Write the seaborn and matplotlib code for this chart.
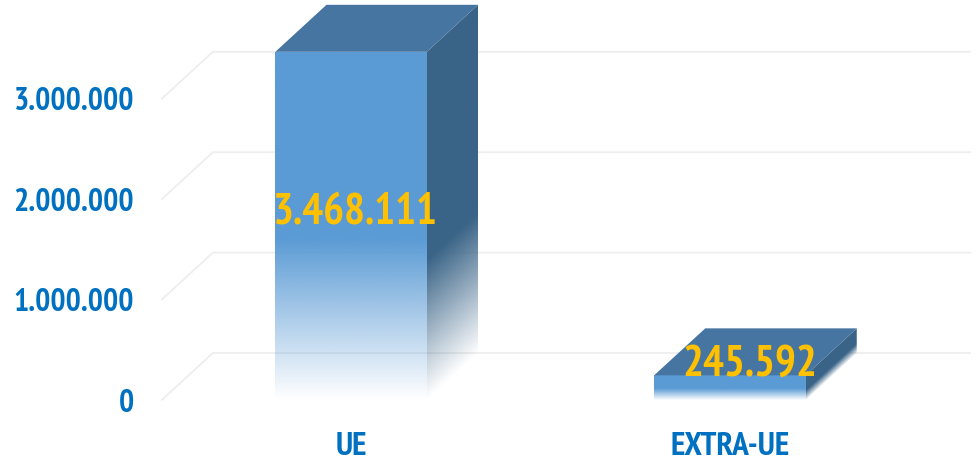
import matplotlib.pyplot as plt
import numpy as np
import pandas as pd
import seaborn as sns
from matplotlib.colors import to_rgb
from matplotlib.patches import Polygon

# data
categories = ['UE', 'EXTRA-UE']
values = [3468111, 245592]
value_labels = ['3.468.111', '245.592']
y_ticks = [0, 1000000, 2000000, 3000000]
y_tick_labels = ['0', '1.000.000', '2.000.000', '3.000.000']

# fake 3d depth, in data units
DEPTH_X = 0.135
DEPTH_Y = 468000
FRONT = '#5B9BD5'
TOP = '#4675A1'
SIDE = '#3A6487'
TEXT_BLUE = '#0070C0'
TEXT_YELLOW = '#FFC000'
GRID = '#EEEEEE'

sns.set_style('white')
plt.rcParams['font.family'] = ['PT Sans Narrow', 'Carlito', 'Liberation Sans', 'DejaVu Sans']

df = pd.DataFrame({'zone': categories, 'value': values})

fig = plt.figure(figsize=(9.8, 4.69), dpi=100)
ax = fig.add_axes([161.75 / 980, (469 - 400) / 469, 757.5 / 980, 400 / 469])

sns.barplot(data=df, x='zone', y='value', ax=ax, width=0.4, color=FRONT, saturation=1)


def gradient(rgb, alpha):
    img = np.zeros(alpha.shape + (4,))
    img[..., :3] = to_rgb(rgb)
    img[..., 3] = alpha
    return img


# front faces become gradients clipped to seaborn's bars, then sides and tops
for bar in list(ax.patches):
    x0, w, h = bar.get_x(), bar.get_width(), bar.get_height()
    x1 = x0 + w
    bar.set_facecolor('none')
    bar.set_edgecolor('none')

    v = np.linspace(0, 1, 256)[:, None] * np.ones((256, 4))
    im = ax.imshow(gradient(FRONT, np.clip(v / 0.46, 0, 1)), extent=(x0, x1, 0, h),
                   origin='lower', aspect='auto', zorder=3, interpolation='bilinear')
    im.set_clip_path(bar)

    side = Polygon([(x1, 0), (x1 + DEPTH_X, DEPTH_Y), (x1 + DEPTH_X, h + DEPTH_Y), (x1, h)],
                   facecolor='none', edgecolor='none', zorder=3)
    ax.add_patch(side)
    uu, vv = np.meshgrid(np.linspace(0, 1, 64), np.linspace(0, h + DEPTH_Y, 512))
    s = (vv - uu * DEPTH_Y) / h
    im = ax.imshow(gradient(SIDE, np.clip(s / 0.4, 0, 1)),
                   extent=(x1, x1 + DEPTH_X, 0, h + DEPTH_Y),
                   origin='lower', aspect='auto', zorder=3, interpolation='bilinear')
    im.set_clip_path(side)

    ax.add_patch(Polygon([(x0, h), (x0 + DEPTH_X, h + DEPTH_Y),
                          (x1 + DEPTH_X, h + DEPTH_Y), (x1, h)],
                         facecolor=TOP, edgecolor='none', zorder=3))

ax.set_xlim(-0.5, 1.5)
ax.set_ylim(0, 3984000)

# floor diagonals and back wall gridlines
for t in y_ticks:
    ax.plot([-0.5, -0.5 + DEPTH_X, 1.5 + DEPTH_X], [t, t + DEPTH_Y, t + DEPTH_Y],
            color=GRID, lw=1.3, zorder=1, clip_on=False)

# value labels sit a bit right of the bars, like the excel 3d ones
label_pos = [(0.01, 1870000), (1.053, 350000)]
for (lx, ly), txt in zip(label_pos, value_labels):
    ax.text(lx, ly, txt, color=TEXT_YELLOW, fontsize=31.5, fontweight='bold',
            ha='center', va='center', zorder=5)

ax.set_yticks(y_ticks)
ax.set_yticklabels(y_tick_labels, fontsize=23, fontweight='bold', color=TEXT_BLUE)
ax.set_xticks(range(len(categories)))
ax.set_xticklabels(categories, fontsize=24, fontweight='bold', color=TEXT_BLUE)
ax.tick_params(axis='y', length=0, pad=20)
ax.tick_params(axis='x', length=0, pad=23)
ax.set_xlabel('')
ax.set_ylabel('')
sns.despine(ax=ax, left=True, bottom=True)
ax.patch.set_alpha(0)

fig.savefig('out.png', dpi=100)
